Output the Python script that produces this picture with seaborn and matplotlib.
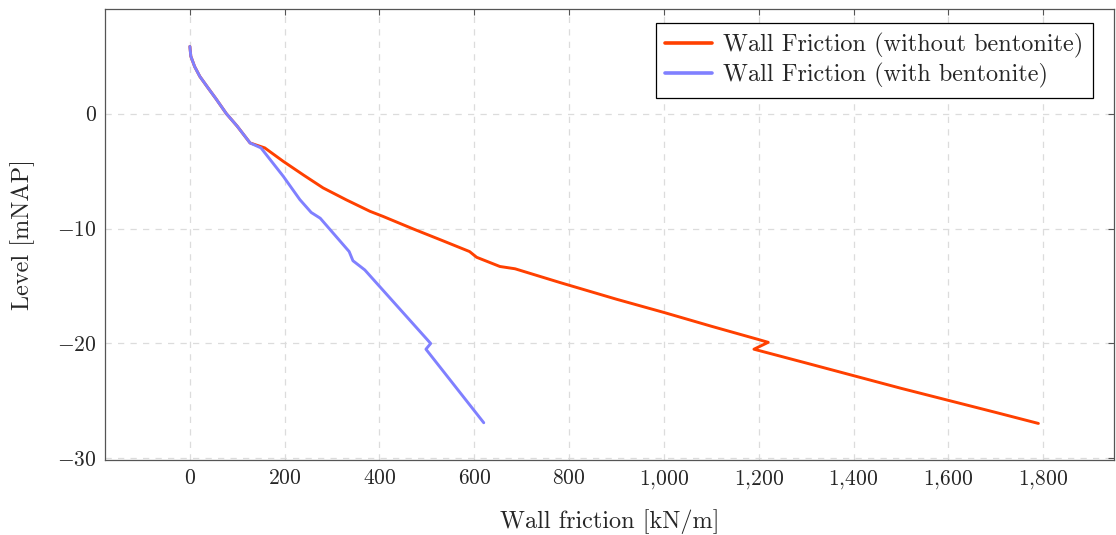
import matplotlib
matplotlib.use("Agg")
import matplotlib.pyplot as plt
import seaborn as sns
import pandas as pd
from matplotlib.ticker import FuncFormatter, MultipleLocator

# Data
friction_without = [0, 2, 10, 21, 38, 55, 77, 100, 127, 158, 197, 240, 281, 330, 380, 408, 471,
                    530, 590, 605, 654, 686, 781, 900, 1000, 1100, 1199, 1220, 1190,
                    1300, 1400, 1500, 1600, 1700, 1790]
level_without = [5.85, 5.0, 4.1, 3.24, 2.26, 1.3, 0.0, -1.1, -2.55, -2.98, -4.15, -5.35, -6.46,
                 -7.5, -8.5, -8.95, -10.03, -11.0, -12.0, -12.5, -13.3, -13.5, -14.7, -16.15,
                 -17.3, -18.5, -19.65, -19.9, -20.5, -21.7, -22.8, -23.9, -24.95, -26.0,
                 -26.96]

friction_with = [0, 2, 10, 21, 38, 55, 77, 100, 127, 150, 197, 232, 256, 275, 336, 344, 369,
                 508, 498, 620]
level_with = [5.85, 5.0, 4.1, 3.24, 2.26, 1.3, 0.0, -1.1, -2.55, -2.98, -5.45, -7.48, -8.6,
              -9.1, -12.0, -12.8, -13.6, -20.0, -20.5, -26.9]

label_without = "Wall Friction (without bentonite)"
label_with = "Wall Friction (with bentonite)"

df = pd.concat([
    pd.DataFrame({"friction": friction_without, "level": level_without,
                  "series": label_without}),
    pd.DataFrame({"friction": friction_with, "level": level_with,
                  "series": label_with}),
], ignore_index=True)

sns.set_style("white")
plt.rcParams["font.family"] = ["cmr10", "DejaVu Serif"]
plt.rcParams["mathtext.fontset"] = "cm"
plt.rcParams["axes.formatter.use_mathtext"] = True
plt.rcParams["axes.unicode_minus"] = True

fig = plt.figure(figsize=(11.16, 5.35), dpi=100)
ax = fig.add_axes([0.0941, 0.140, 0.9039, 0.843])

palette = {label_without: "#ff4000", label_with: "#8080ff"}
sns.lineplot(data=df, x="friction", y="level", hue="series", units="series",
             estimator=None, sort=False, palette=palette, linewidth=2.1, ax=ax,
             hue_order=[label_without, label_with])

ax.set_xlim(-179, 1949)
ax.set_ylim(-30.15, 9.1)
ax.xaxis.set_major_locator(MultipleLocator(200))
ax.yaxis.set_major_locator(MultipleLocator(10))
ax.xaxis.set_major_formatter(FuncFormatter(lambda v, p: "$" + f"{v:,.0f}".replace(",", "{,}") + "$"))
ax.yaxis.set_major_formatter(FuncFormatter(lambda v, p: f"${v:.0f}$"))

ax.grid(True, color="#dcdcdc", linestyle=(0, (5, 5)), linewidth=0.9)
ax.set_axisbelow(True)
for s in ax.spines.values():
    s.set_color("#555555")
    s.set_linewidth(0.9)
ax.tick_params(direction="in", length=4, width=0.8, color="#555555",
               top=True, right=True, labelsize=15.5, pad=6)

ax.set_xlabel("Wall friction [kN/m]", fontsize=17.5, labelpad=13)
ax.set_ylabel("Level [mNAP]", fontsize=17.5, labelpad=16)

leg = ax.legend(loc="upper right", bbox_to_anchor=(0.979, 0.969), fontsize=17.5,
                frameon=True, fancybox=False, edgecolor="black", framealpha=1,
                handlelength=1.9, handletextpad=0.45, borderpad=0.4, labelspacing=0.22,
                borderaxespad=0)
leg.get_frame().set_linewidth(0.9)
for line in leg.get_lines():
    line.set_linewidth(2.6)

fig.savefig("out.png", dpi=100)
